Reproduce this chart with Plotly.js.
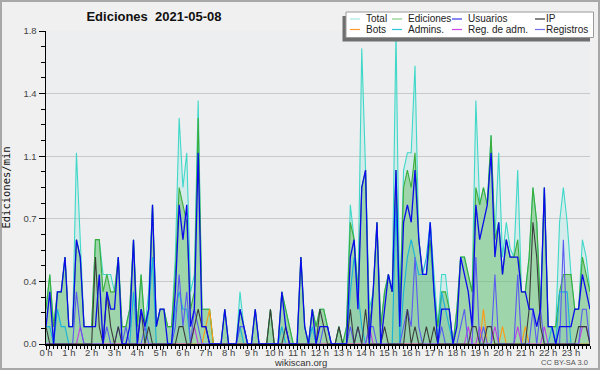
<!DOCTYPE html>
<html>
<head>
<meta charset="utf-8">
<script src="https://cdn.plot.ly/plotly-3.0.1.min.js"></script>
<style>
  html, body { margin: 0; padding: 0; background: #f0f0f0; }
  #chart { width: 600px; height: 370px; }
</style>
</head>
<body>
<div id="chart"></div>
<script>
// ---- Data: edits per minute, 10-minute bins, 2021-05-08 ----
const hourLabels = ['0 h','1 h','2 h','3 h','4 h','5 h','6 h','7 h','8 h','9 h','10 h','11 h',
                    '12 h','13 h','14 h','15 h','16 h','17 h','18 h','19 h','20 h','21 h','22 h','23 h'];
const hourTicks = [0,1,2,3,4,5,6,7,8,9,10,11,12,13,14,15,16,17,18,19,20,21,22,23];

const total = [
  0.2,0.4,0.1,0.3,0.3,0.5,  0.1,0.1,1.1,0.6,0.1,0.1,  0.1,0.6,0.6,0.4,0.4,0.4,  0.3,0.5,0.1,0.1,0.2,0.6,
  0.1,0.4,0.1,0.3,0.8,0.1,  0.2,0.2,0.1,0.1,0.5,1.3,  0.9,1.1,0.3,0.4,1.4,0.2,  0.2,0.2,0.0,0.0,0.0,0.2,
  0.0,0.0,0.0,0.3,0.1,0.0,  0.0,0.2,0.0,0.0,0.0,0.2,  0.0,0.0,0.3,0.2,0.1,0.0,  0.0,0.5,0.1,0.0,0.2,0.1,
  0.2,0.2,0.1,0.0,0.0,0.1,  0.0,0.1,0.8,0.6,0.3,1.7,  1.0,0.2,0.3,0.7,0.1,0.3,  0.4,0.3,1.8,0.2,1.0,1.1,
  1.1,1.6,0.6,0.4,0.4,0.7,  0.4,0.1,0.4,0.4,0.2,0.0,  0.2,0.5,0.5,0.4,0.3,1.4,  0.8,0.9,0.8,1.2,0.6,1.1,
  0.5,0.7,0.55,0.5,1.0,0.3, 0.3,0.5,0.9,0.7,0.2,0.9,  0.1,0.1,0.1,0.7,0.9,0.7,  0.4,0.2,0.2,0.6,0.5,0.3
];
const ediciones = [
  0.2,0.4,0.1,0.3,0.3,0.5,  0.1,0.1,0.6,0.5,0.1,0.1,  0.1,0.6,0.6,0.3,0.4,0.3,  0.3,0.5,0.1,0.1,0.2,0.6,
  0.1,0.4,0.1,0.2,0.8,0.1,  0.2,0.2,0.1,0.1,0.4,0.9,  0.8,0.7,0.2,0.3,1.3,0.2,  0.2,0.2,0.0,0.0,0.0,0.2,
  0.0,0.0,0.0,0.2,0.1,0.0,  0.0,0.2,0.0,0.0,0.0,0.2,  0.0,0.0,0.3,0.2,0.1,0.0,  0.0,0.5,0.1,0.0,0.2,0.1,
  0.2,0.2,0.1,0.0,0.0,0.1,  0.0,0.1,0.7,0.6,0.3,0.9,  1.0,0.1,0.3,0.7,0.1,0.3,  0.4,0.3,1.0,0.2,0.9,1.0,
  0.9,1.1,0.6,0.4,0.4,0.6,  0.3,0.1,0.3,0.3,0.2,0.0,  0.2,0.5,0.5,0.4,0.3,0.9,  0.8,0.9,0.8,1.2,0.6,0.7,
  0.4,0.6,0.5,0.5,0.6,0.3,  0.3,0.5,0.9,0.7,0.2,0.9,  0.1,0.1,0.1,0.3,0.4,0.4,  0.4,0.2,0.2,0.5,0.4,0.3
];
const usuarios = [
  0.1,0.3,0.0,0.3,0.3,0.5,  0.1,0.1,0.6,0.5,0.1,0.1,  0.1,0.1,0.4,0.0,0.3,0.2,  0.2,0.5,0.0,0.0,0.1,0.6,
  0.0,0.2,0.1,0.2,0.8,0.1,  0.2,0.2,0.0,0.0,0.3,0.8,  0.6,0.8,0.1,0.2,1.1,0.1,  0.1,0.0,0.0,0.0,0.0,0.2,
  0.0,0.0,0.0,0.2,0.1,0.0,  0.0,0.2,0.0,0.0,0.0,0.0,  0.0,0.0,0.3,0.1,0.0,0.0,  0.0,0.5,0.1,0.0,0.2,0.0,
  0.1,0.1,0.1,0.0,0.0,0.0,  0.0,0.0,0.5,0.6,0.2,0.9,  1.0,0.0,0.3,0.7,0.0,0.2,  0.4,0.3,1.0,0.1,0.7,0.8,
  0.7,1.0,0.6,0.4,0.4,0.7,  0.3,0.0,0.2,0.2,0.2,0.0,  0.1,0.5,0.4,0.3,0.1,0.8,  0.6,0.7,0.8,1.1,0.5,0.7,
  0.4,0.6,0.5,0.5,0.5,0.3,  0.3,0.2,0.2,0.1,0.2,0.9,  0.1,0.1,0.0,0.1,0.1,0.1,  0.1,0.2,0.2,0.4,0.3,0.2
];
const ip = [
  0.1,0.0,0.0,0.0,0.0,0.0,  0.0,0.0,0.0,0.0,0.0,0.0,  0.0,0.5,0.1,0.0,0.3,0.1,  0.0,0.1,0.0,0.0,0.0,0.0,
  0.0,0.2,0.0,0.1,0.0,0.0,  0.0,0.0,0.0,0.0,0.0,0.1,  0.1,0.0,0.0,0.1,0.2,0.1,  0.1,0.0,0.0,0.0,0.0,0.0,
  0.0,0.0,0.0,0.0,0.0,0.0,  0.0,0.0,0.0,0.0,0.0,0.2,  0.0,0.0,0.0,0.1,0.0,0.0,  0.0,0.0,0.0,0.0,0.0,0.0,
  0.2,0.1,0.0,0.0,0.0,0.1,  0.0,0.0,0.2,0.0,0.1,0.0,  0.2,0.0,0.0,0.0,0.0,0.1,  0.0,0.0,0.0,0.0,0.0,0.2,
  0.0,0.1,0.0,0.0,0.1,0.0,  0.1,0.0,0.0,0.0,0.0,0.0,  0.0,0.0,0.0,0.0,0.1,0.1,  0.0,0.0,0.1,0.1,0.0,0.0,
  0.0,0.0,0.0,0.0,0.0,0.0,  0.0,0.2,0.7,0.5,0.1,0.0,  0.0,0.0,0.0,0.0,0.0,0.0,  0.0,0.0,0.1,0.1,0.1,0.0
];
const bots = [
  0,0,0,0,0,0,  0,0,0,0,0,0,  0,0,0,0,0,0,  0,0,0,0,0,0,
  0,0,0,0,0,0,  0,0,0,0,0,0,  0,0,0,0,0,0,  0.1,0.2,0,0,0,0,
  0,0,0,0,0,0,  0,0,0,0,0,0,  0,0,0,0,0,0,  0,0,0,0,0,0,
  0,0,0,0,0,0,  0,0,0,0,0,0,  0,0,0,0,0,0,  0,0,0,0,0,0,
  0,0,0,0,0,0,  0,0,0,0,0,0,  0,0,0,0,0,0,  0,0.2,0,0,0,0,
  0.1,0,0,0,0,0,  0.1,0,0,0,0,0,  0,0,0,0,0,0,  0,0,0,0,0,0
];
const admins = [
  0.1,0.1,0.0,0.2,0.1,0.1,  0,0,0,0,0,0,  0,0,0,0,0,0,  0,0,0,0,0,0.3,
  0,0,0,0.2,0.5,0,  0,0,0,0,0.2,0.3,  0.2,0.2,0,0,0,0,  0,0,0,0,0,0,
  0,0,0,0.1,0,0,  0,0,0,0,0,0,  0,0,0.1,0,0,0,  0,0,0,0,0.1,0,
  0,0,0,0,0,0,  0,0,0.3,0.5,0.3,0.1,  0,0,0,0,0,0,  0,0,0.8,0,0.3,0.5,
  0.6,0.5,0.4,0.4,0.5,0.7,  0.3,0,0.3,0.2,0.1,0,  0,0,0,0,0,0,  0,0,0,0,0,0,
  0,0,0,0,0,0,  0,0,0,0,0,0,  0,0.1,0,0.3,0.3,0.3,  0,0,0,0,0,0
];
const regAdm = [
  0,0,0,0,0,0,  0,0,0,0.1,0,0,  0,0,0,0,0,0,  0,0,0,0,0,0,
  0,0,0,0,0,0,  0,0,0,0,0,0,  0,0,0,0.1,0,0,  0,0,0,0,0,0,
  0,0,0,0,0,0,  0,0,0,0,0,0,  0,0,0,0,0,0,  0,0,0,0,0,0,
  0,0,0,0,0,0,  0,0,0,0,0,0,  0,0.1,0,0,0,0,  0,0,0,0,0,0,
  0,0,0,0,0,0,  0,0,0,0,0,0,  0,0,0,0.1,0,0,  0.1,0,0,0,0.1,0,
  0,0,0,0,0.1,0,  0,0,0,0,0,0.1,  0,0,0,0,0,0,  0,0,0,0.1,0.1,0
];
const registros = [
  0,0,0,0,0,0,  0,0,0.3,0.1,0,0,  0,0,0,0,0.1,0,  0,0.1,0,0.1,0,0,
  0,0,0.1,0,0,0,  0,0,0,0,0.1,0.4,  0.1,0.3,0,0.2,0.1,0,  0,0,0,0,0,0,
  0,0,0,0.1,0.1,0,  0,0,0,0,0,0,  0,0,0,0,0,0,  0,0,0,0,0,0,
  0,0.1,0.1,0,0,0,  0,0,0.1,0,0.1,0,  0,0.1,0.1,0,0,0,  0,0,0,0,0.1,0.2,
  0.1,0.5,0.1,0,0,0,  0,0,0.1,0,0,0,  0,0.1,0.2,0,0,0.5,  0,0.1,0,0,0.4,0,
  0,0,0,0,0.4,0,  0,0,0.2,0,0.2,0,  0,0,0,0,0.6,0,  0,0,0,0.2,0.2,0
];

const seriesNames = ['Total','Ediciones','Usuarios','IP','Bots','Admins.','Reg. de adm.','Registros'];
const seriesColors = {
  'Total':'#3fd8c8', 'Ediciones':'#3aad3a', 'Usuarios':'#0b0bec', 'IP':'#3c3c3c',
  'Bots':'#ff9a10', 'Admins.':'#19b2da', 'Reg. de adm.':'#c23fe4', 'Registros':'#5b5bf0'
};
const legendSampleColors = {
  'Total':'#a6e9e2', 'Ediciones':'#86cc86', 'Usuarios':'#3a3aee', 'IP':'#333333',
  'Bots':'#ff9a30', 'Admins.':'#30c4dc', 'Reg. de adm.':'#cc44e6', 'Registros':'#7070f0'
};

// x positions (hours) of the 10-minute bins
const hours = total.map((_, i) => i / 6);

function tr(name, y, opts) {
  return Object.assign({
    type: 'scatter', mode: 'lines', name: name, x: hours, y: y,
    line: { color: seriesColors[name], width: 1.1 }, hoverinfo: 'skip', showlegend: false
  }, opts || {});
}

const data = [
  tr('Total', total, { fill: 'tozeroy', fillcolor: 'rgba(64,224,208,0.14)' }),
  tr('Ediciones', ediciones, { fill: 'tozeroy', fillcolor: 'rgba(100,188,100,0.48)' }),
  tr('Admins.', admins, { fill: 'tozeroy', fillcolor: 'rgba(20,140,190,0.07)' }),
  tr('Bots', bots),
  tr('Reg. de adm.', regAdm),
  tr('Registros', registros),
  tr('IP', ip),
  tr('Usuarios', usuarios, { line: { color: seriesColors['Usuarios'], width: 1.3 } })
];

// ---- Layout helpers (pixel -> paper) ----
const W = 600, H = 370, L = 46, R = 10, T = 31, B = 26;
const PW = W - L - R, PH = H - T - B;
const px = x => (x - L) / PW;
const py = y => (H - B - y) / PH;

const shapes = [
  // outer frame
  { type: 'rect', xref: 'paper', yref: 'paper', x0: px(1), x1: px(599), y0: py(1), y1: py(369),
    line: { color: '#a8a8a8', width: 2 }, fillcolor: 'rgba(0,0,0,0)', layer: 'above' },
  // legend shadow + box
  { type: 'rect', xref: 'paper', yref: 'paper', x0: px(342.5), x1: px(590), y0: py(16), y1: py(41.5),
    line: { width: 0 }, fillcolor: '#6f6f6f', layer: 'above' },
  { type: 'rect', xref: 'paper', yref: 'paper', x0: px(346), x1: px(593.5), y0: py(12), y1: py(37.5),
    line: { color: '#9a9a9a', width: 1 }, fillcolor: '#ffffff', layer: 'above' }
];
const annotations = [
  { text: 'wikiscan.org', xref: 'paper', yref: 'paper', x: px(300), y: py(362), xanchor: 'center', yanchor: 'middle',
    showarrow: false, font: { family: 'Liberation Sans, Arial, sans-serif', size: 9.5, color: '#333' } },
  { text: 'CC BY-SA 3.0', xref: 'paper', yref: 'paper', x: px(590), y: py(362.5), xanchor: 'right', yanchor: 'middle',
    showarrow: false, font: { family: 'Liberation Sans, Arial, sans-serif', size: 7.5, color: '#555' } }
];

// custom legend: 4 columns x 2 rows
const legendCols = [[350, 366], [392, 408], [452, 468], [535, 545.5]];
const legendRows = [19, 29.5];
seriesNames.forEach((name, k) => {
  const col = legendCols[k % 4], row = legendRows[Math.floor(k / 4)];
  shapes.push({ type: 'line', xref: 'paper', yref: 'paper', x0: px(col[0]), x1: px(col[0] + 10),
    y0: py(row), y1: py(row), line: { color: legendSampleColors[name], width: 1.2 }, layer: 'above' });
  annotations.push({ text: name, xref: 'paper', yref: 'paper', x: px(col[1]), y: py(row),
    xanchor: 'left', yanchor: 'middle', showarrow: false, xshift: -2,
    font: { family: 'Liberation Sans, Arial, sans-serif', size: 10, color: '#222' } });
});

const layout = {
  width: W, height: H,
  margin: { l: L, r: R, t: T, b: B, pad: 0 },
  paper_bgcolor: '#f0f0f0',
  plot_bgcolor: '#eceef0',
  showlegend: false,
  title: {
    text: '<b>Ediciones\u00a0 2021-05-08</b>',
    x: 154 / W, xanchor: 'center', xref: 'container',
    y: 1 - 16 / H, yanchor: 'middle', yref: 'container',
    font: { family: 'Liberation Sans, Arial, sans-serif', size: 13, color: '#111' }
  },
  xaxis: {
    range: [0, 143 / 6], fixedrange: true,
    tickmode: 'array', tickvals: hourTicks, ticktext: hourLabels,
    ticks: 'outside', ticklen: 4, tickwidth: 1, tickcolor: '#000',
    ticklabelstandoff: -5,
    minor: { dtick: 1 / 6, tick0: 0, ticks: 'outside', ticklen: 3, tickwidth: 1, tickcolor: '#000', showgrid: false },
    showline: true, linecolor: '#000', linewidth: 2,
    showgrid: false, zeroline: false,
    tickfont: { family: 'Liberation Sans, Arial, sans-serif', size: 9.5, color: '#444' }
  },
  yaxis: {
    range: [0, 1.8], fixedrange: true,
    tickmode: 'array', tickvals: [0, 0.36, 0.72, 1.08, 1.44, 1.8],
    ticktext: ['0.0', '0.4', '0.7', '1.1', '1.4', '1.8'],
    ticks: 'outside', ticklen: 6, tickwidth: 1, tickcolor: '#000',
    minor: { dtick: 0.09, tick0: 0, ticks: 'outside', ticklen: 3.5, tickwidth: 1, tickcolor: '#000', showgrid: false },
    showline: true, linecolor: '#000', linewidth: 1.5,
    showgrid: true, gridcolor: '#c9c9c9', gridwidth: 1,
    zeroline: false,
    tickfont: { family: 'Liberation Sans, Arial, sans-serif', size: 9.5, color: '#444' },
    title: { text: 'Ediciones/min', standoff: 10,
      font: { family: 'DejaVu Sans Mono, monospace', size: 10.5, color: '#111' } }
  },
  shapes: shapes,
  annotations: annotations
};

Plotly.newPlot('chart', data, layout, { displayModeBar: false, staticPlot: true });
</script>
</body>
</html>
